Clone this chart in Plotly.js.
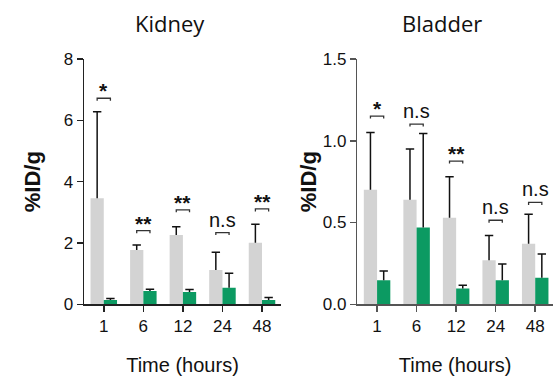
<!DOCTYPE html>
<html><head><meta charset="utf-8">
<script src="https://cdn.plot.ly/plotly-3.0.1.min.js"></script>
<style>html,body{margin:0;padding:0;background:#fff}#c{width:553px;height:376px}</style>
</head><body><div id="c"></div>
<script>
const times = ["1", "6", "12", "24", "48"];
// Kidney
const kidneyGrey = [3.46, 1.77, 2.26, 1.12, 2.01];
const kidneyGreyErr = [2.82, 0.16, 0.27, 0.58, 0.60];
const kidneyGreen = [0.14, 0.43, 0.40, 0.54, 0.14];
const kidneyGreenErr = [0.05, 0.06, 0.08, 0.47, 0.08];
const kidneySigY = [6.72, 2.40, 3.08, 2.34, 3.11];
const kidneySigText = ["*", "**", "**", "n.s", "**"];
// Bladder
const bladderGrey = [0.70, 0.64, 0.53, 0.27, 0.37];
const bladderGreyErr = [0.35, 0.31, 0.25, 0.15, 0.18];
const bladderGreen = [0.147, 0.47, 0.096, 0.147, 0.163];
const bladderGreenErr = [0.057, 0.575, 0.02, 0.10, 0.145];
const bladderSigY = [1.151, 1.102, 0.876, 0.514, 0.623];
const bladderSigText = ["*", "n.s", "**", "n.s", "n.s"];

const GREY = "#d3d3d3", GREEN = "#0c9a62";
const BARGAP = 0.33;
const HALF = (1 - BARGAP) / 4; // offset of each bar centre from the category centre
const idx = times.map((_, i) => i);
const zeros = times.map(() => 0);

function bars(y, err, color, xa, ya) {
  return {type: "bar", x: idx, y: y, xaxis: xa, yaxis: ya, marker: {color: color, line: {width: 0}},
    error_y: {type: "data", array: err, arrayminus: zeros, symmetric: false, color: "#111", thickness: 1.5, width: 0},
    showlegend: false, hoverinfo: "none"};
}
function caps(y, err, side, xa, ya) {
  return {type: "scatter", mode: "markers", x: idx.map(i => i + side * HALF), y: y.map((v, i) => v + err[i]),
    xaxis: xa, yaxis: ya, marker: {symbol: "line-ew", size: 6, line: {color: "#111", width: 1.5}},
    showlegend: false, hoverinfo: "none"};
}
const data = [
  bars(kidneyGrey, kidneyGreyErr, GREY, "x", "y"),
  bars(kidneyGreen, kidneyGreenErr, GREEN, "x", "y"),
  bars(bladderGrey, bladderGreyErr, GREY, "x2", "y2"),
  bars(bladderGreen, bladderGreenErr, GREEN, "x2", "y2"),
  caps(kidneyGrey, kidneyGreyErr, -1, "x", "y"),
  caps(kidneyGreen, kidneyGreenErr, 1, "x", "y"),
  caps(bladderGrey, bladderGreyErr, -1, "x2", "y2"),
  caps(bladderGreen, bladderGreenErr, 1, "x2", "y2")
];

const shapes = [], annotations = [];
function sig(ys, txt, xref, yref, ymax, lineColor) {
  const d = ymax / 245 * 2.5;
  ys.forEach((y, i) => {
    const a = i - HALF, b = i + HALF;
    shapes.push({type: "path", xref: xref, yref: yref,
      path: `M ${a},${y - d} L ${a},${y} L ${b},${y} L ${b},${y - d}`,
      line: {color: lineColor, width: 1.3}});
    const isNs = txt[i] === "n.s";
    annotations.push({xref: xref, yref: yref, x: i, y: y, text: txt[i], showarrow: false,
      yanchor: "bottom", yshift: isNs ? 0 : -6,
      font: {family: "Liberation Sans, Arial", size: isNs ? 20 : 21, color: "#111", weight: isNs ? "normal" : "bold"}});
  });
}
sig(kidneySigY, kidneySigText, "x", "y", 8, "#333");
sig(bladderSigY, bladderSigText, "x2", "y2", 1.5, "#333");

const tickFont = {family: "Liberation Sans, Arial", size: 17, color: "#111"};
annotations.push(
  {xref: "paper", yref: "paper", x: 170 / 553, y: 1 - 23 / 376, xanchor: "center", yanchor: "middle", text: "Kidney", showarrow: false,
   font: {family: "Open Sans", size: 22, color: "#111"}},
  {xref: "paper", yref: "paper", x: 442 / 553, y: 1 - 23 / 376, xanchor: "center", yanchor: "middle", text: "Bladder", showarrow: false,
   font: {family: "Open Sans", size: 22, color: "#111"}}
);

const yDom = [1 - 304.3 / 376, 1 - 59 / 376];
const xTitleFont = {family: "Liberation Sans, Arial", size: 20, color: "#111"};
const yTitleFont = {family: "Liberation Sans, Arial", size: 22, color: "#111", weight: "bold"};
const layout = {
  width: 553, height: 376, margin: {l: 0, r: 0, t: 0, b: 0},
  paper_bgcolor: "#fff", plot_bgcolor: "#fff",
  barmode: "group", bargap: BARGAP, bargroupgap: 0,
  xaxis: {domain: [84 / 553, 281 / 553], range: [-0.5, 4.48], tickvals: idx, ticktext: times, showgrid: false, zeroline: false,
    showline: true, linecolor: "#222", linewidth: 1.5, ticks: "outside", ticklen: 6, tickwidth: 1.5, tickcolor: "#222",
    tickfont: tickFont, title: {text: "Time (hours)", standoff: 26, font: xTitleFont}},
  yaxis: {domain: yDom, range: [0, 8], tickvals: [0, 2, 4, 6, 8], showgrid: false, zeroline: false,
    showline: true, linecolor: "#222", linewidth: 1.5, ticks: "outside", ticklen: 6, tickwidth: 1.5, tickcolor: "#222",
    tickfont: tickFont, title: {text: "%ID/g", standoff: 17, font: yTitleFont}},
  xaxis2: {domain: [357.3 / 553, 1], range: [-0.5, 4.45], tickvals: idx, ticktext: times, anchor: "y2", showgrid: false, zeroline: false,
    showline: true, linecolor: "#555", linewidth: 1.5, ticks: "outside", ticklen: 6, tickwidth: 1.5, tickcolor: "#555",
    tickfont: tickFont, title: {text: "Time (hours)", standoff: 26, font: xTitleFont}},
  yaxis2: {domain: yDom, range: [0, 1.5], tickvals: [0, 0.5, 1.0, 1.5], tickformat: ".1f", anchor: "x2", showgrid: false, zeroline: false,
    showline: true, linecolor: "#555", linewidth: 1.5, ticks: "outside", ticklen: 6, tickwidth: 1.5, tickcolor: "#555",
    tickfont: tickFont, title: {text: "%ID/g", standoff: 0, font: yTitleFont}},
  shapes: shapes, annotations: annotations
};
Plotly.newPlot("c", data, layout, {staticPlot: true, displayModeBar: false});
</script></body></html>
